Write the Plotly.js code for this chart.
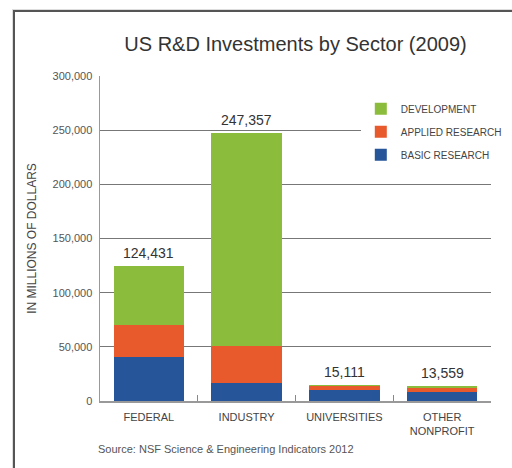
<!DOCTYPE html>
<html>
<head>
<meta charset="utf-8">
<script src="https://cdn.plot.ly/plotly-3.0.1.min.js"></script>
<style>
  html, body { margin: 0; padding: 0; background: #fff; }
  #wrap { position: relative; width: 512px; height: 468px; overflow: hidden; }
  #chart { position: absolute; left: 0; top: 0; width: 512px; height: 468px; }
  #frame { position: absolute; left: 13px; top: 10px; width: 520px; height: 480px;
           border-left: 2px solid #555; border-top: 2px solid #555; pointer-events: none;
           box-shadow: -1px -1px 0 #ddd; }
</style>
</head>
<body>
<div id="wrap">
  <div id="chart"></div>
  <div id="frame"></div>
</div>
<script>
const categories = ["FEDERAL", "INDUSTRY", "UNIVERSITIES", "OTHER<br>NONPROFIT"];
const basicResearch = [40400, 16400, 10200, 8000];
const appliedResearch = [29900, 34400, 4100, 4000];
const development = [54131, 196557, 811, 1559];
const totalLabels = ["124,431", "247,357", "15,111", "13,559"];
const yTicks = [0, 50000, 100000, 150000, 200000, 250000, 300000];

const totals = categories.map((c, i) => basicResearch[i] + appliedResearch[i] + development[i]);

const font = "Liberation Sans, Arial, Helvetica, sans-serif";

const traces = [
  { type: "bar", name: "BASIC RESEARCH", x: categories, y: basicResearch,
    marker: { color: "#26559a" }, legendgroup: "b", legendrank: 3, hoverinfo: "skip" },
  { type: "bar", name: "APPLIED RESEARCH", x: categories, y: appliedResearch,
    marker: { color: "#e8592c" }, legendgroup: "a", legendrank: 2, hoverinfo: "skip" },
  { type: "bar", name: "DEVELOPMENT", x: categories, y: development,
    marker: { color: "#8cbc3b" }, legendgroup: "d", legendrank: 1, hoverinfo: "skip" }
];

const totalAnnotations = categories.map((c, i) => ({
  x: c, y: totals[i], xref: "x", yref: "y", text: totalLabels[i],
  showarrow: false, xanchor: "center", yanchor: "bottom", yshift: 3,
  font: { family: font, size: 14, color: "#333" }
}));

const layout = {
  width: 512, height: 468,
  margin: { l: 100, r: 21, t: 76, b: 67, autoexpand: false },
  paper_bgcolor: "#fff", plot_bgcolor: "#fff",
  barmode: "stack", bargap: 0.28,
  font: { family: font, color: "#444" },
  title: { text: "US R&D Investments by Sector (2009)", x: 0.5, xref: "paper",
           y: 0.907, yref: "container", yanchor: "middle",
           font: { family: font, size: 20, color: "#333" } },
  xaxis: {
    type: "category", range: [-0.5, 3.5], tickson: "boundaries",
    ticks: "inside", ticklen: 6, tickcolor: "#888", tickwidth: 1,
    ticklabelstandoff: 5,
    showline: true, linecolor: "#999", linewidth: 1.5,
    showgrid: false, zeroline: false, automargin: false,
    tickfont: { family: font, size: 11, color: "#444" }, fixedrange: true
  },
  yaxis: {
    range: [0, 300000], tickvals: yTicks, tickformat: ",d",
    showline: true, linecolor: "#999", linewidth: 1.5,
    showgrid: true, gridcolor: "#777", gridwidth: 1, zeroline: false,
    ticks: "", ticklabelstandoff: 4, automargin: false,
    tickfont: { family: font, size: 11, color: "#555" },
    title: { text: "IN MILLIONS OF DOLLARS", standoff: 13,
             font: { family: font, size: 12, color: "#444" } },
    fixedrange: true
  },
  separators: ".,",
  showlegend: true,
  legend: {
    x: 0.667, y: 0.944, xanchor: "left", yanchor: "top",
    traceorder: "grouped", tracegroupgap: 4,
    bgcolor: "#ffffff",
    font: { family: font, size: 10, color: "#444" }
  },
  annotations: totalAnnotations.concat([
    { text: "Source: NSF Science & Engineering Indicators 2012", xref: "paper", yref: "paper",
      x: -0.01, y: -0.148, xanchor: "left", yanchor: "middle", showarrow: false,
      font: { family: font, size: 11, color: "#555" } }
  ])
};

Plotly.newPlot("chart", traces, layout, { displayModeBar: false, staticPlot: true });
</script>
</body>
</html>
